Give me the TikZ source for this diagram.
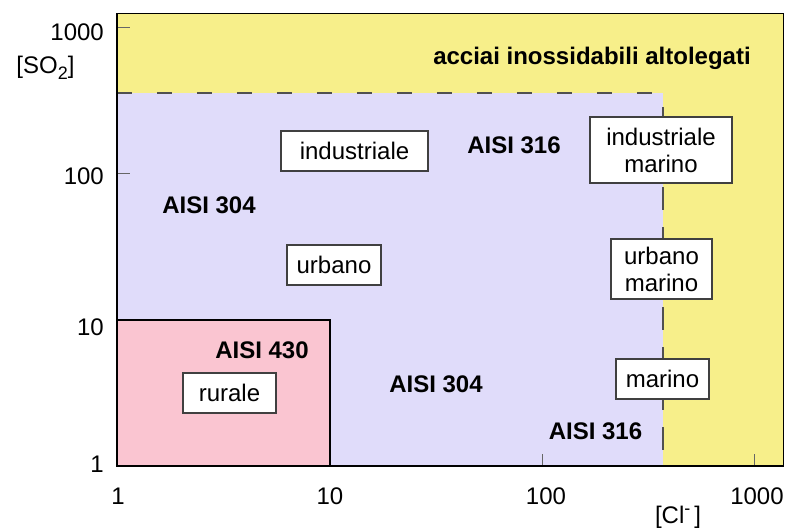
\documentclass[tikz,border=0pt]{standalone}
\usepackage{fontspec}
\setmainfont{Liberation Sans}
\definecolor{yel}{RGB}{247,239,138}
\definecolor{vio}{RGB}{224,220,250}
\definecolor{pnk}{RGB}{250,197,209}
\definecolor{dashc}{RGB}{80,80,80}
\begin{document}
\begin{tikzpicture}[x=1pt,y=-1pt,
  txt/.style={font=\fontsize{24}{27}\selectfont, inner sep=0pt, text=black},
  lbl/.style={txt, font=\fontsize{24}{27}\selectfont\bfseries},
  envbox/.style={txt, draw=black!75, line width=1.2pt, fill=white, align=center},
  tck/.style={draw=black!60, line width=1pt},
  bndh/.style={draw=dashc, line width=1.5pt, dash pattern=on 15pt off 25pt},
  bndv/.style={draw=dashc, line width=1.5pt, dash pattern=on 23pt off 17pt, dash phase=26pt}
]
\useasboundingbox (0,0) rectangle (785,530);
% regions
\fill[yel] (117,13) rectangle (783,466);
\fill[vio] (117,93) rectangle (663,466);
\filldraw[fill=pnk, draw=black, line width=1.2pt] (117,466) -- (117,320) -- (330,320) -- (330,466);
% dashed boundaries
\coordinate (dtl) at (117,93);
\coordinate (dtr) at (663,93);
\coordinate (dbr) at (663,466);
\draw[bndh] (dtl) -- (dtr);
\draw[bndv] (dtr) -- (dbr);
% ticks
\draw[tck] (117,27) -- (130,27);
\draw[tck] (117,173) -- (130,173);
\draw[tck] (542,466) -- (542,454);
\draw[tck] (754,466) -- (754,454);
% frame
\draw[black, line width=1pt] (117,13) rectangle (783,466);
\draw[black, line width=1.5pt] (117,13) -- (117,466) -- (783,466);
% axis labels
\node[txt, anchor=east] (y1000) at (104,32.5) {1000};
\node[txt, anchor=east] (y100) at (104,176) {100};
\node[txt, anchor=east] (y10) at (104,327.5) {10};
\node[txt, anchor=east] (y1) at (104,464) {1};
\node[txt] (yaxis) at (45.5,68) {[SO\raisebox{-6pt}{\fontsize{18}{20}\selectfont 2}]};
\node[txt] (x1) at (118,496.5) {1};
\node[txt] (x10) at (330,496.5) {10};
\node[txt] (x100) at (546,496.5) {100};
\node[txt] (x1000) at (757,496.5) {1000};
\node[txt] (xaxis) at (678,517) {[Cl\raisebox{9pt}{\fontsize{18}{20}\selectfont -}\,]};
% steel grades
\node[lbl, anchor=base] (alto) at (592,64) {acciai inossidabili altolegati};
\node[lbl] (a304a) at (209,205) {AISI 304};
\node[lbl] (a316a) at (514,145) {AISI 316};
\node[lbl] (a430) at (262,350.5) {AISI 430};
\node[lbl] (a304b) at (436,384) {AISI 304};
\node[lbl] (a316b) at (595.5,431) {AISI 316};
% environments
\node[envbox, minimum width=147pt, minimum height=40pt] (ind) at (354.5,151) {industriale};
\node[envbox, minimum width=94pt, minimum height=40pt] (urb) at (334,265) {urbano};
\node[envbox, minimum width=142pt, minimum height=66pt] (indm) at (661,150) {industriale\\marino};
\node[envbox, minimum width=101pt, minimum height=60pt] (urbm) at (661.5,269) {urbano\\marino};
\node[envbox, minimum width=93pt, minimum height=40pt] (rur) at (229.5,393) {rurale};
\node[envbox, minimum width=93pt, minimum height=40pt] (mar) at (662.5,379) {marino};
\end{tikzpicture}
\end{document}
